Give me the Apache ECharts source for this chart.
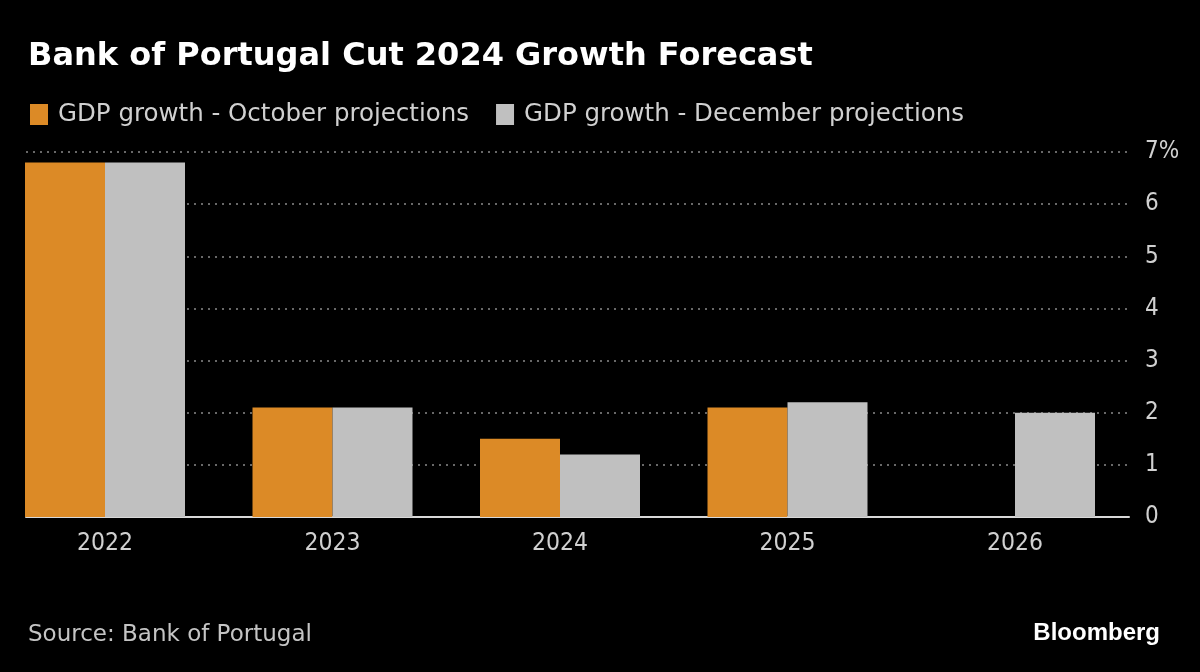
<!DOCTYPE html>
<html><head><meta charset="utf-8">
<script src="https://cdn.jsdelivr.net/npm/echarts@6/dist/echarts.min.js"></script>
<style>html,body{margin:0;padding:0;background:#000;}#c{width:1200px;height:672px;}</style>
</head><body><div id="c"></div>
<script>
const years = ['2022', '2023', '2024', '2025', '2026'];
const october = [6.8, 2.1, 1.5, 2.1, null];
const december = [6.8, 2.1, 1.2, 2.2, 2.0];
const yTicks = [0, 1, 2, 3, 4, 5, 6, 7];

const chart = echarts.init(document.getElementById('c'));
const idx = years.map((_, i) => i);
chart.setOption({
  backgroundColor: '#000',
  animation: false,
  title: [{
    text: 'Bank of Portugal Cut 2024 Growth Forecast',
    left: 23, top: 36,
    textStyle: {color: '#fff', fontSize: 32, fontWeight: 'bold', fontFamily: 'DejaVu Sans'}
  }, {
    text: 'Source: Bank of Portugal',
    left: 23, top: 619,
    textStyle: {color: '#c4c4c4', fontSize: 23, fontWeight: 'normal', fontFamily: 'DejaVu Sans, sans-serif'}
  }, {
    text: 'Bloomberg',
    right: 35, top: 616,
    textStyle: {color: '#fff', fontSize: 24, fontWeight: 'bold', fontFamily: 'Liberation Sans, sans-serif'}
  }],
  legend: {
    left: 25, top: 97,
    itemWidth: 18, itemHeight: 21, itemGap: 27,
    icon: 'rect',
    textStyle: {color: '#d0d0d0', fontSize: 24.5, fontFamily: 'DejaVu Sans, sans-serif', padding: [0, 0, 0, 5]},
    data: ['GDP growth - October projections', 'GDP growth - December projections']
  },
  grid: {left: 26, right: 71, top: 152, bottom: 155, containLabel: false},
  xAxis: {
    type: 'value',
    min: (26 - 105) / 227.5,
    max: (1129 - 105) / 227.5,
    axisLine: {show: true, onZero: false, lineStyle: {color: '#d8d8d8', width: 2}},
    axisTick: {show: false},
    splitLine: {show: false},
    axisLabel: {
      customValues: idx,
      formatter: v => years[Math.round(v)] || '',
      color: '#d0d0d0', fontSize: 24.5, margin: 14,
      fontFamily: 'DejaVu Sans Condensed, sans-serif'
    }
  },
  yAxis: {
    type: 'value', position: 'right', min: 0, max: 7, interval: 1,
    axisLine: {show: false}, axisTick: {show: false},
    splitLine: {lineStyle: {color: '#8a8a8a', width: 1.5, type: [2, 5]}},
    axisLabel: {
      margin: 16, color: '#d0d0d0', fontSize: 24, align: 'left',
      fontFamily: 'DejaVu Sans Condensed, sans-serif',
      formatter: v => v === yTicks[yTicks.length - 1] ? v + '%' : String(v)
    }
  },
  series: [{
    name: 'GDP growth - October projections', type: 'bar',
    data: october.map((v, i) => [i, v]),
    barWidth: 80, barGap: '0%',
    itemStyle: {color: '#dc8a26'}
  }, {
    name: 'GDP growth - December projections', type: 'bar',
    data: december.map((v, i) => [i, v]),
    barWidth: 80, barGap: '0%',
    itemStyle: {color: '#c0c0c0'}
  }]
});
</script></body></html>
